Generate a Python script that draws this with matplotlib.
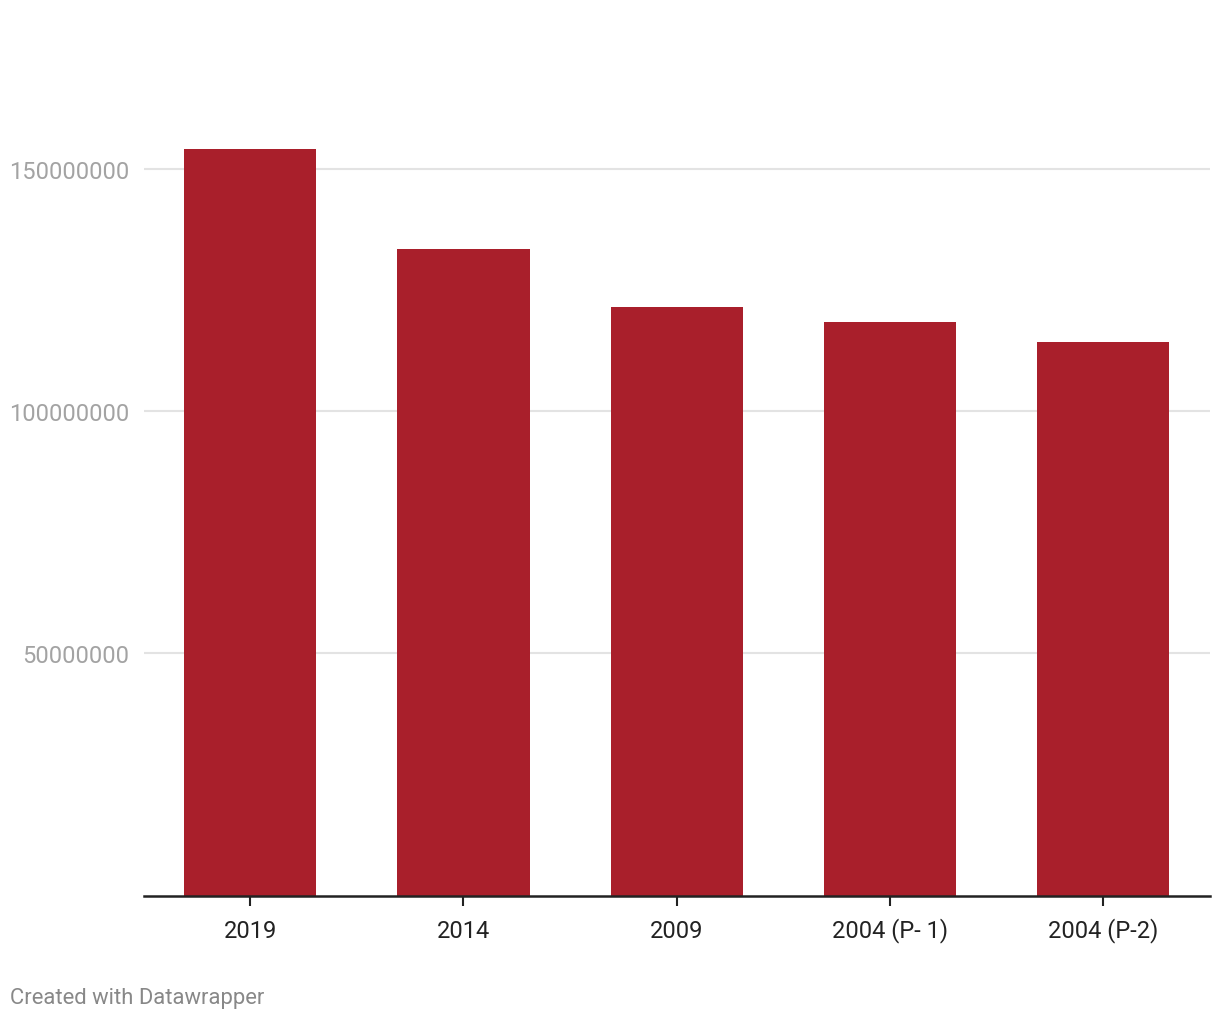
import matplotlib
matplotlib.use("Agg")
import matplotlib.pyplot as plt

categories = ["2019", "2014", "2009", "2004 (P- 1)", "2004 (P-2)"]
values = [154.1e6, 133.5e6, 121.6e6, 118.4e6, 114.3e6]
yticks = [50000000, 100000000, 150000000]
ytick_labels = ["50000000", "100000000", "150000000"]

plt.rcParams['font.family'] = ['Roboto', 'DejaVu Sans']

W, H = 1220, 1020
fig = plt.figure(figsize=(W / 100, H / 100), dpi=100)
left, right, bottom, top = 143.5, 1210, 896.5, 121.5
ax = fig.add_axes([left / W, 1 - bottom / H, (right - left) / W, (bottom - top) / H])

x = range(len(categories))
ax.bar(x, values, width=0.62, color="#a91f2b", zorder=2)
ax.set_xlim(-0.5, len(categories) - 0.5)
ax.set_ylim(0, 160e6)

ax.set_yticks(yticks)
ax.set_yticklabels(ytick_labels)
ax.yaxis.grid(True, color="#e3e3e3", linewidth=1.5, zorder=0)
ax.tick_params(axis="y", length=0, pad=10, labelsize=17, labelcolor="#a3a3a3")

ax.set_xticks(list(x))
ax.set_xticklabels(categories)
ax.tick_params(axis="x", length=7.2, width=1.5, color="#222222", pad=22.5,
               labelsize=17, labelcolor="#222222")
for lbl in ax.get_xticklabels():
    lbl.set_verticalalignment("baseline")

for s in ["top", "right", "left"]:
    ax.spines[s].set_visible(False)
ax.spines["bottom"].set_color("#222222")
ax.spines["bottom"].set_linewidth(1.8)
ax.spines["bottom"].set_zorder(3)

fig.text(10 / W, 1 - 999 / H, "Created with Datawrapper", fontsize=15.8,
         color="#888888", ha="left", va="center")

fig.savefig("out.png", dpi=100, facecolor="white")
